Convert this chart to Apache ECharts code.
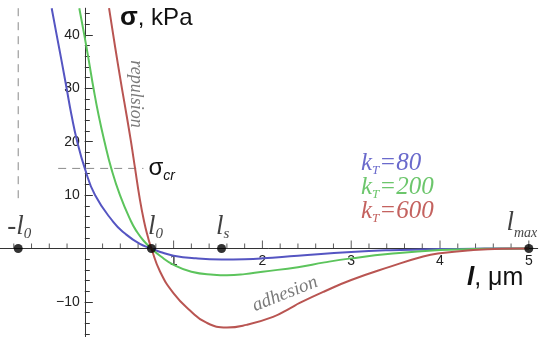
<!DOCTYPE html>
<html>
<head>
<meta charset="utf-8">
<script src="https://cdn.jsdelivr.net/npm/echarts@6/dist/echarts.min.js"></script>
<style>
  html, body { margin: 0; padding: 0; background: #fff; }
  #chart { width: 550px; height: 344px; }
</style>
</head>
<body>
<div id="chart"></div>
<script>
// ---- data ----
const L0 = 0.75;
const LS = 1.54;
const LMAX = 5.0;
const SIGMA_CR = 15;

const X_MIN = -0.955, X_MAX = 5.1;
const Y_MIN = -16.5, Y_MAX = 45;

const X_TICK_LABELS = [1, 2, 3, 4, 5];
const Y_TICK_LABELS = [-10, 10, 20, 30, 40];

// kT = 80
const blue = [
  [-0.373, 45], [-0.317, 40], [-0.26, 35], [-0.205, 30], [-0.15, 25], [-0.085, 20],
  [0.0, 15], [0.115, 10], [0.32, 5], [0.453, 2.8], [0.62, 0.85], [0.75, 0],
  [0.85, -0.65], [1.0, -1.35], [1.25, -1.85], [1.54, -2.05], [1.8, -2.0], [2.0, -1.85],
  [2.4, -1.35], [3.0, -0.65], [3.44, -0.32], [4.0, -0.1], [4.5, -0.02], [5.0, 0]
];
// kT = 200
const green = [
  [-0.062, 45], [-0.006, 40], [0.047, 35], [0.098, 30], [0.155, 25], [0.222, 20],
  [0.298, 15], [0.396, 10], [0.52, 5.1], [0.584, 3.2], [0.66, 1.5], [0.75, 0],
  [0.85, -1.4], [1.0, -3.05], [1.2, -4.35], [1.45, -4.9], [1.6, -5.0], [1.8, -4.8],
  [2.0, -4.35], [2.4, -3.5], [2.7, -2.6], [3.0, -1.85], [3.44, -1.0], [4.0, -0.3],
  [4.5, -0.06], [5.0, 0]
];
// kT = 600
const red = [
  [0.273, 45], [0.32, 40], [0.368, 35], [0.418, 30], [0.47, 25], [0.52, 20],
  [0.566, 15], [0.614, 9.8], [0.667, 5.1], [0.71, 2.2], [0.75, 0], [0.847, -4.3],
  [1.0, -8.4], [1.185, -11.6], [1.37, -13.9], [1.6, -14.8], [1.82, -14.3],
  [2.12, -12.8], [2.31, -11.2], [2.42, -10.2], [2.69, -8.1], [3.0, -5.9],
  [3.44, -3.4], [3.81, -1.5], [4.0, -0.9], [4.375, -0.3], [4.7, -0.05], [5.0, 0]
];

const SERIES_NAMES = ['80', '200', '600'];
const COLORS = ['#5555c2', '#5cc45c', '#b95552'];
const TEXT_COLORS = ['#6a6acc', '#6cc66c', '#c4625f'];

// reference guide lines
const VLINE = [[-L0, 45], [-L0, 8.5]];
const HLINE = [[-0.3, SIGMA_CR], [0.66, SIGMA_CR]];

// tick positions
const X_MINOR = [];
for (let i = -4; i <= 25; i++) if (i % 5 !== 0) X_MINOR.push(Math.round(i * 2) / 10);
const X_MAJOR = X_TICK_LABELS;
const Y_MINOR = [];
for (let v = -16; v <= 44; v += 2) Y_MINOR.push(v);

// ---- chart ----
const chart = echarts.init(document.getElementById('chart'), null, { renderer: 'canvas' });

const SANS = '"Liberation Sans", Arial, sans-serif';
const SERIF = '"Liberation Serif", "Times New Roman", serif';
const AXIS_COLOR = '#333';

// layout of the plotting area (pixels)
const G_LEFT = 0, G_RIGHT = 12.3, G_TOP = 8.2, G_BOTTOM = 7.4;
const CH = 344, CW = 550;
const plotH = CH - G_TOP - G_BOTTOM;
const plotW = CW - G_LEFT - G_RIGHT;
const UNIT_X = plotW / (X_MAX - X_MIN);
const zeroY = G_TOP + plotH * (Y_MAX - 0) / (Y_MAX - Y_MIN);   // pixel row of sigma = 0
const zeroX = G_LEFT + UNIT_X * (0 - X_MIN);                    // pixel column of l = 0

const hidden = { show: false };

const pointRich = {
  l: { fontFamily: SERIF, fontStyle: 'italic', fontSize: 27, color: '#111' },
  s: { fontFamily: SERIF, fontStyle: 'italic', fontSize: 15, color: '#111', padding: [16, 0, 0, 0] },
  m: { fontFamily: SERIF, fontStyle: 'italic', fontSize: 14, color: '#111', padding: [20, 0, 0, 0] }
};

const points = [
  { value: [-L0, 0], label: { formatter: '{l|-l}{s|0}', offset: [1, 2] } },
  { value: [L0, 0], label: { formatter: '{l|l}{s|0}', offset: [4, 2] } },
  { value: [LS, 0], label: { formatter: '{l|l}{s|s}', offset: [1, 2] } },
  { value: [LMAX, 0], label: { formatter: '{l|l}{m|max}', offset: [-7, 0] } }
];

const legendGraphics = SERIES_NAMES.map((n, i) => ({
  type: 'text',
  left: 361,
  top: 151 + i * 24,
  style: {
    text: '{k|k}{t|T}{v|=' + n + '}',
    rich: {
      k: { fontFamily: SERIF, fontStyle: 'italic', fontSize: 25, fill: TEXT_COLORS[i] },
      t: { fontFamily: SERIF, fontStyle: 'italic', fontSize: 13, fill: TEXT_COLORS[i], padding: [14, 0, 0, 0] },
      v: { fontFamily: SERIF, fontStyle: 'italic', fontSize: 25, fill: TEXT_COLORS[i] }
    }
  }
}));

const gridBase = { containLabel: false, outerBoundsMode: 'none' };

const option = {
  animation: false,
  backgroundColor: '#fff',
  grid: [
    // 0: data area
    Object.assign({ left: G_LEFT, top: G_TOP, right: G_RIGHT, bottom: G_BOTTOM }, gridBase),
    // 1: horizontal axis line + labels, bottom edge on sigma = 0
    Object.assign({ left: G_LEFT, top: G_TOP, right: G_RIGHT, bottom: CH - zeroY }, gridBase),
    // 2: vertical axis, left edge on l = 0
    Object.assign({ left: zeroX, top: G_TOP, width: 100, bottom: G_BOTTOM }, gridBase)
  ],
  xAxis: [
    { type: 'value', gridIndex: 0, min: X_MIN, max: X_MAX, show: false },
    { type: 'value', gridIndex: 1, min: X_MIN, max: X_MAX, position: 'bottom',
      splitLine: hidden,
      axisLine: { show: true, onZero: false, lineStyle: { color: AXIS_COLOR, width: 1 } },
      axisTick: hidden,
      axisLabel: { show: true, customValues: X_TICK_LABELS, margin: 6,
        fontFamily: SANS, fontSize: 14, color: '#222', formatter: v => String(v) } },
    { type: 'value', gridIndex: 2, min: 0, max: 1, show: false }
  ],
  yAxis: [
    { type: 'value', gridIndex: 0, min: Y_MIN, max: Y_MAX, show: false },
    { type: 'value', gridIndex: 1, min: 0, max: 1, show: false },
    { type: 'value', gridIndex: 2, min: Y_MIN, max: Y_MAX, position: 'left',
      splitLine: hidden,
      axisLine: { show: true, onZero: false, lineStyle: { color: AXIS_COLOR, width: 1 } },
      axisTick: { show: true, inside: true, length: 5, customValues: Y_MINOR, lineStyle: { color: AXIS_COLOR, width: 1 } },
      axisLabel: { show: true, customValues: Y_TICK_LABELS, margin: 5,
        fontFamily: SANS, fontSize: 14, color: '#222',
        formatter: v => (v < 0 ? '\u2212' + Math.abs(v) : String(v)) } },
    { type: 'value', gridIndex: 2, min: Y_MIN, max: Y_MAX, position: 'left',
      splitLine: hidden,
      axisLine: { show: false, onZero: false },
      axisTick: { show: true, inside: true, length: 8, customValues: Y_TICK_LABELS, lineStyle: { color: AXIS_COLOR, width: 1 } },
      axisLabel: hidden }
  ],
  series: [
    // horizontal-axis ticks, placed through the x scale at sigma = 0
    { type: 'scatter', data: X_MINOR.map(v => [v, 0]), symbol: 'rect', symbolSize: [1, 5],
      symbolOffset: [0, -2.5], silent: true, itemStyle: { color: AXIS_COLOR }, z: 1 },
    { type: 'scatter', data: X_MAJOR.map(v => [v, 0]), symbol: 'rect', symbolSize: [1, 8],
      symbolOffset: [0, -4], silent: true, itemStyle: { color: AXIS_COLOR }, z: 1 },
    { name: 'kT=80', type: 'line', data: blue, smooth: 0.5, showSymbol: false, clip: true,
      lineStyle: { color: COLORS[0], width: 2 }, itemStyle: { color: COLORS[0] }, z: 3 },
    { name: 'kT=200', type: 'line', data: green, smooth: 0.5, showSymbol: false, clip: true,
      lineStyle: { color: COLORS[1], width: 2 }, itemStyle: { color: COLORS[1] }, z: 3 },
    { name: 'kT=600', type: 'line', data: red, smooth: 0.5, showSymbol: false, clip: true,
      lineStyle: { color: COLORS[2], width: 2 }, itemStyle: { color: COLORS[2] }, z: 3 },
    { type: 'line', data: VLINE, showSymbol: false, silent: true,
      lineStyle: { color: '#8a8a8a', width: 1, type: [8, 6] }, z: 2 },
    { type: 'line', data: HLINE, showSymbol: false, silent: true,
      lineStyle: { color: '#8a8a8a', width: 1, type: [8, 6] }, z: 2,
      endLabel: {
        show: true, distance: 5,
        formatter: '{a|\u03c3}{b|cr}',
        rich: {
          a: { fontFamily: SANS, fontSize: 24, color: '#111' },
          b: { fontFamily: SANS, fontStyle: 'italic', fontSize: 14, color: '#111', padding: [16, 0, 0, 0] }
        }
      }
    },
    { type: 'scatter', data: points, symbol: 'circle', symbolSize: 9, silent: true,
      itemStyle: { color: '#000' }, z: 5,
      label: { show: true, position: 'top', distance: 4, rich: pointRich } }
  ],
  graphic: [
    { type: 'text', left: 120, top: 5,
      style: {
        text: '{a|\u03c3}{b|, kPa}',
        rich: {
          a: { fontFamily: SANS, fontWeight: 'bold', fontSize: 26, fill: '#111' },
          b: { fontFamily: SANS, fontSize: 24, fill: '#111' }
        }
      } },
    { type: 'text', left: 467, top: 265,
      style: {
        text: '{a|l}{b|, \u03bcm}',
        rich: {
          a: { fontFamily: SANS, fontWeight: 'bold', fontStyle: 'italic', fontSize: 26, fill: '#111' },
          b: { fontFamily: SANS, fontSize: 25, fill: '#111' }
        }
      } },
    { type: 'text', x: 136, y: 94, rotation: -Math.PI / 2,
      style: { text: 'repulsion', fontFamily: SERIF, fontStyle: 'italic', fontSize: 18, fill: '#7a7a7a',
        align: 'center', verticalAlign: 'middle' } },
    { type: 'text', x: 285, y: 294, rotation: 0.38,
      style: { text: 'adhesion', fontFamily: SERIF, fontStyle: 'italic', fontSize: 19, fill: '#7a7a7a',
        align: 'center', verticalAlign: 'middle' } }
  ].concat(legendGraphics)
};

chart.setOption(option);
</script>
</body>
</html>
